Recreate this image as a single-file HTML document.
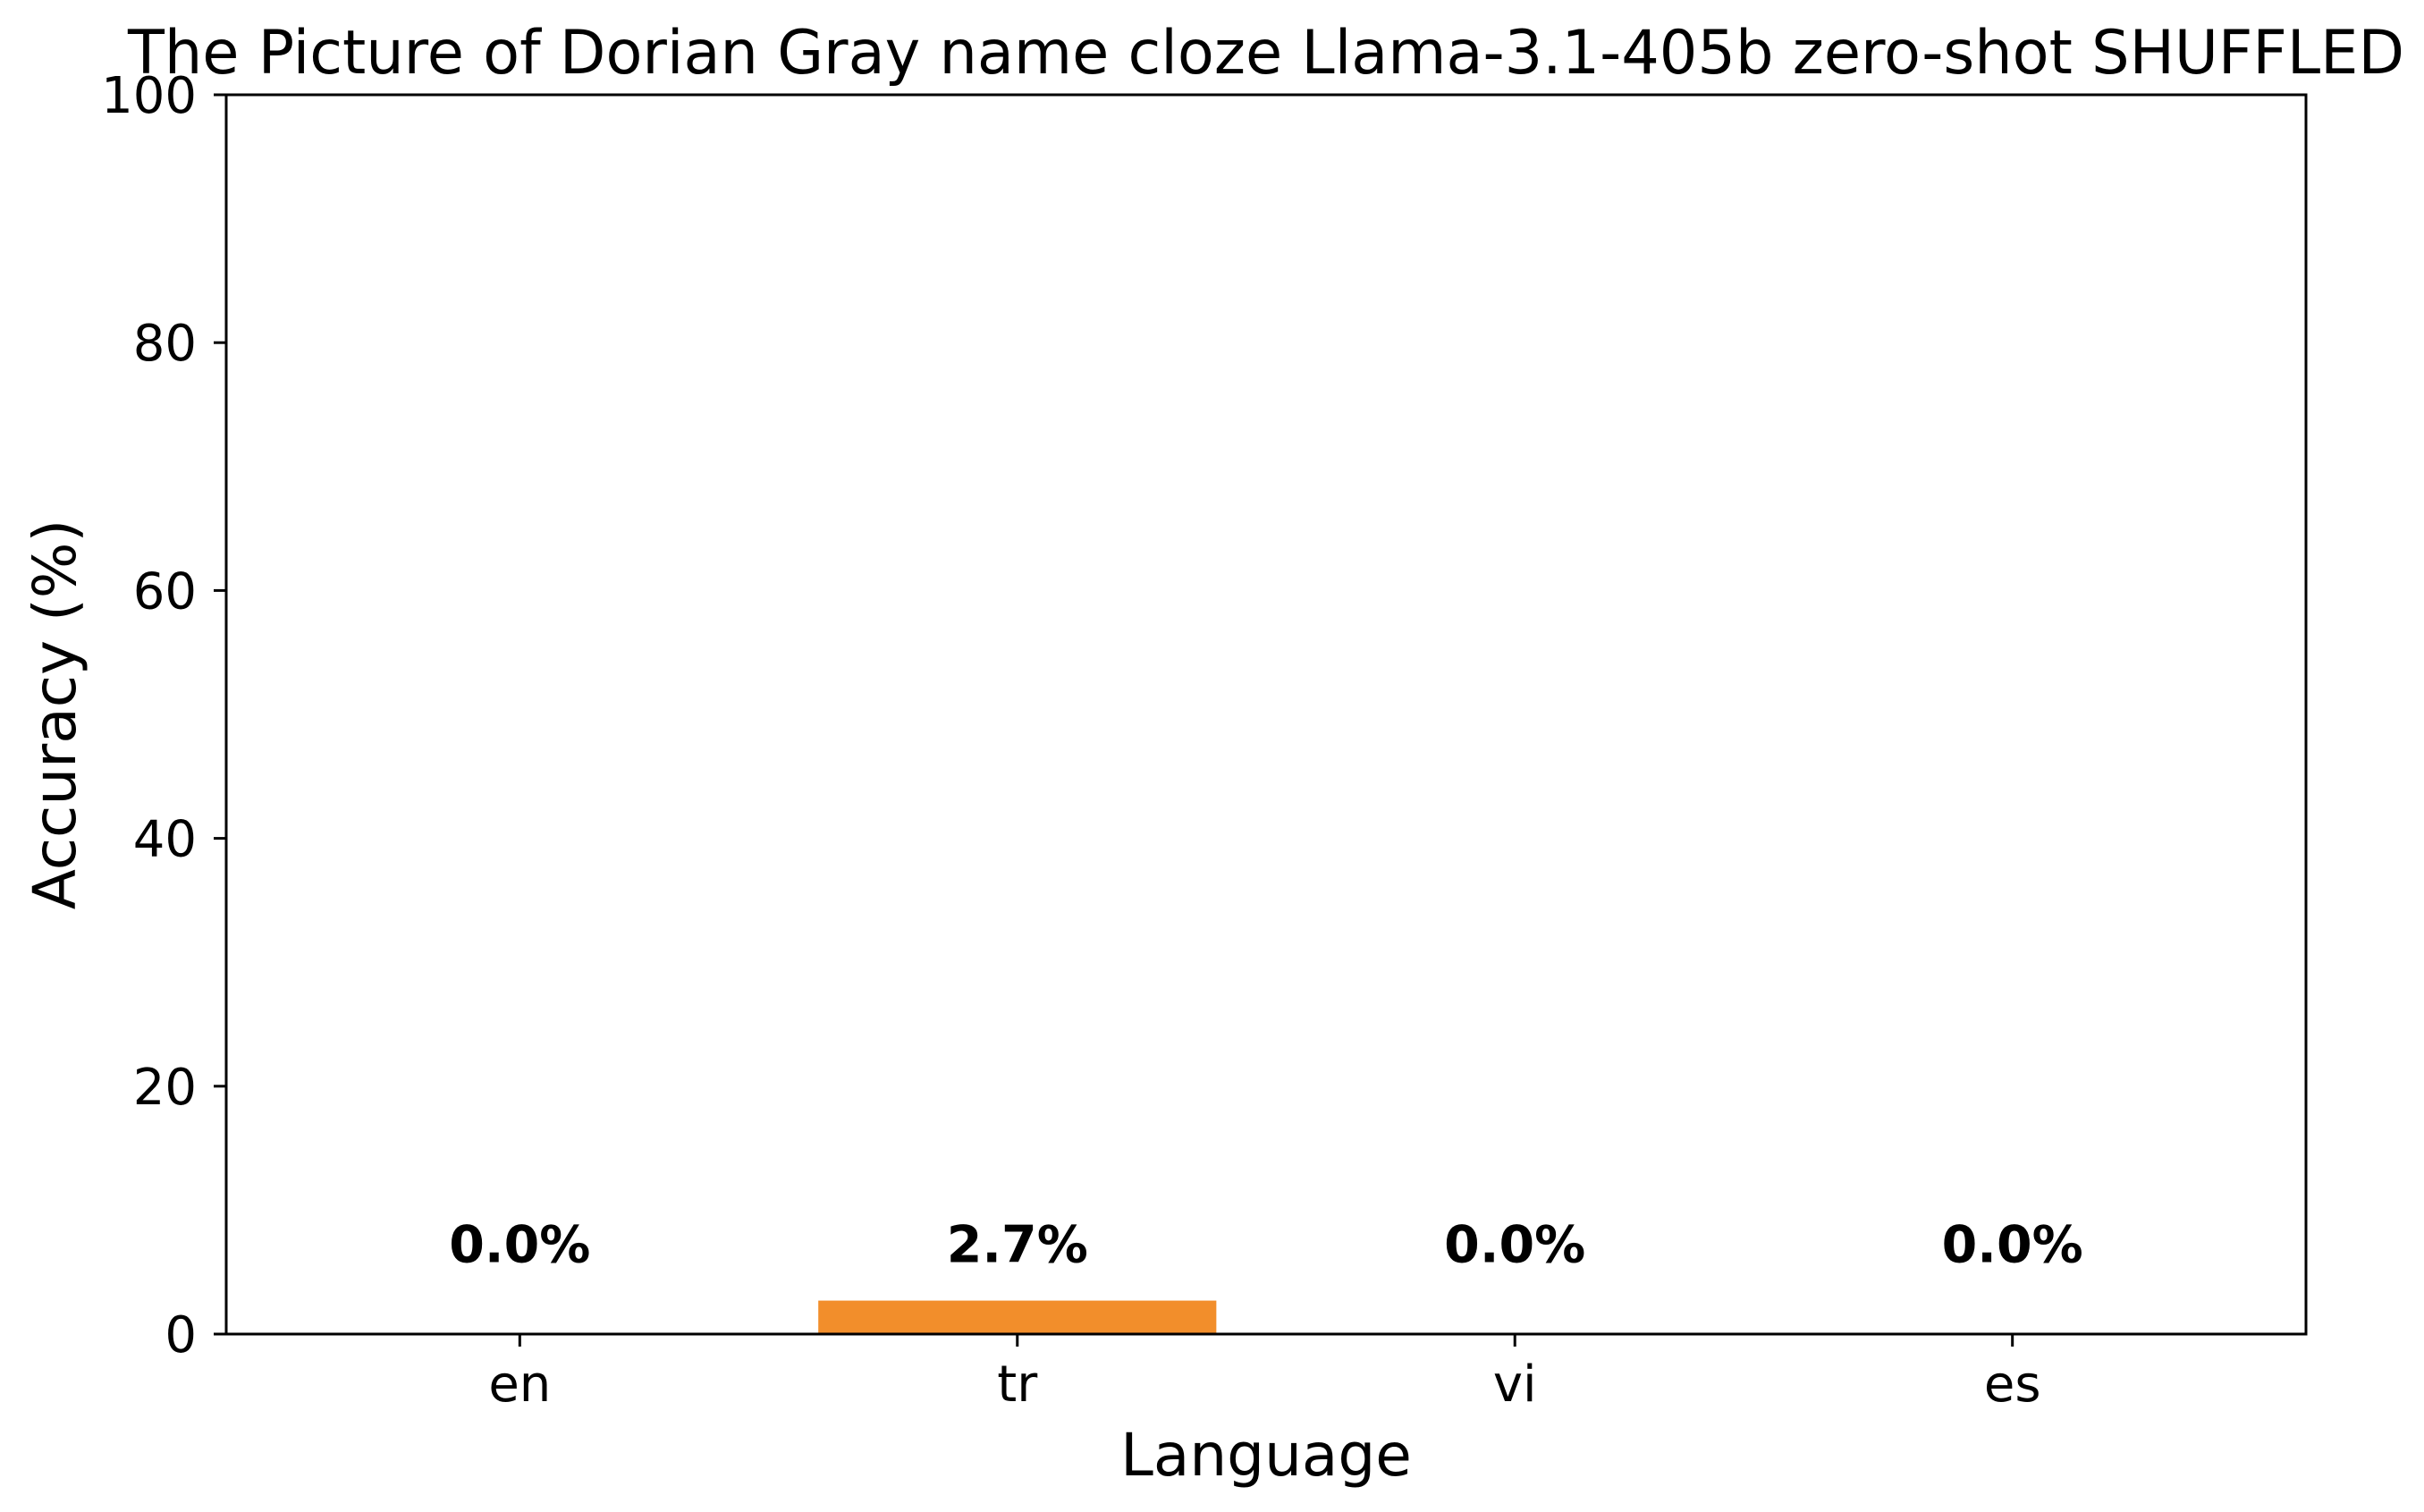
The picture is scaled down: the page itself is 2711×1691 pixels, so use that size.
<!DOCTYPE html>
<html><head><meta charset="utf-8"><style>
html,body{margin:0;padding:0;background:#fff;}
svg{display:block;font-family:"DejaVu Sans","Liberation Sans",sans-serif;}
</style></head><body>
<svg id="chart" width="2711" height="1691" viewBox="0 0 2711 1691" xmlns="http://www.w3.org/2000/svg">
<rect width="2711" height="1691" fill="#fff"/>
<text x="1416" y="82" font-size="68" text-anchor="middle" textLength="2546" lengthAdjust="spacingAndGlyphs">The Picture of Dorian Gray name cloze Llama-3.1-405b zero-shot SHUFFLED</text>
<g id="bars"></g>
<g id="yticks"></g>
<g id="xticks"></g>
<g id="labels"></g>
<rect x="253" y="106" width="2326" height="1386" fill="none" stroke="#000" stroke-width="3"/>
<text x="1416" y="1650" font-size="66" text-anchor="middle">Language</text>
<text transform="translate(84,799) rotate(-90)" font-size="66" text-anchor="middle">Accuracy (%)</text>
</svg>
<script>
const categories = ["en", "tr", "vi", "es"];
const values = [0.0, 2.7, 0.0, 0.0];
const valueLabels = ["0.0%", "2.7%", "0.0%", "0.0%"];
const yTicks = [0, 20, 40, 60, 80, 100];

const NS = "http://www.w3.org/2000/svg";
const L = 253, R = 2579, T = 106, B = 1492;
const xMin = -0.59, xMax = categories.length - 1 + 0.59;
function xs(i){ return L + (i - xMin) / (xMax - xMin) * (R - L); }
function ys(v){ return B - v / 100 * (B - T); }
const unit = (R - L) / (xMax - xMin);
function mk(tag, attrs, parent, text){
  const e = document.createElementNS(NS, tag);
  for (const k in attrs) e.setAttribute(k, attrs[k]);
  if (text !== undefined) e.textContent = text;
  parent.appendChild(e);
  return e;
}
const gb = document.getElementById('bars');
const gy = document.getElementById('yticks');
const gx = document.getElementById('xticks');
const gl = document.getElementById('labels');

values.forEach((v, i) => {
  const bw = 0.8 * unit;
  const r = mk('rect', {x: xs(i) - bw/2, y: ys(v), width: bw, height: ys(0) - ys(v), fill: '#f28e2b'}, gb);
  
  
  const t = mk('text', {x: xs(i), y: ys(5.8), 'font-size': 57, 'font-weight': 'bold', 'text-anchor': 'middle'}, gl, valueLabels[i]);
  
  
});

yTicks.forEach(v => {
  const l = mk('line', {x1: L - 14, x2: L, y1: ys(v), y2: ys(v), stroke: '#000', 'stroke-width': 3}, gy);
  
  
  const t = mk('text', {x: L - 33, y: ys(v) + 20, 'font-size': 56, 'text-anchor': 'end'}, gy, String(v));
  
  
});

categories.forEach((c, i) => {
  const l = mk('line', {x1: xs(i), x2: xs(i), y1: B, y2: B + 14, stroke: '#000', 'stroke-width': 3}, gx);
  
  
  const t = mk('text', {x: xs(i), y: 1567, 'font-size': 56, 'text-anchor': 'middle'}, gx, c);
  
  
});
</script>
</body></html>
